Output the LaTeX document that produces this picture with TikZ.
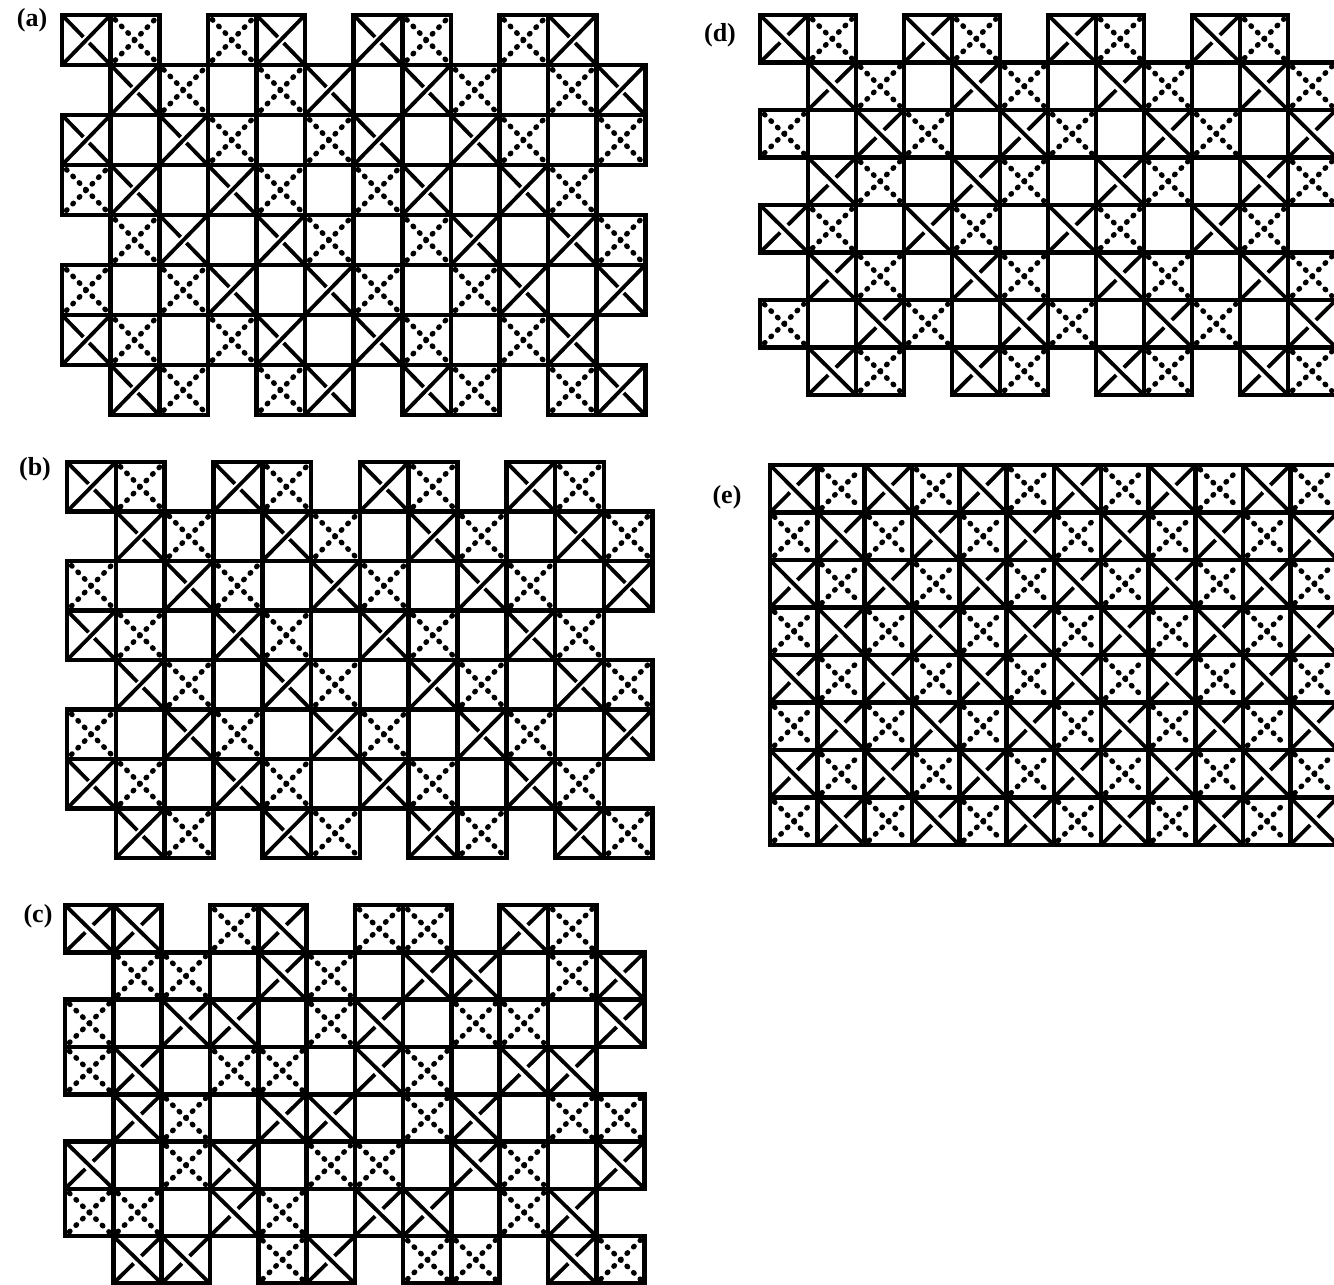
\documentclass[tikz,border=0pt]{standalone}
\usepackage{fontspec}
\setmainfont{Liberation Serif}
\usetikzlibrary{calc}

% one square of a pattern: column, row, kind (0 empty, 1 solid, 2 dotted), over (1 = / on top, 2 = \ on top)
\newcommand{\knotcell}[4]{%
  \ifnum#3=0\relax\else
    \ifnum#3=2\relax
      \draw[dotstrand] (#1+0.09,#2+0.09) -- (#1+0.91,#2+0.91);
      \draw[dotstrand] (#1+0.09,#2+0.91) -- (#1+0.91,#2+0.09);
    \else
      \ifnum#4=1\relax
        \draw[strand] (#1,#2+1) -- (#1+1,#2);
        \draw[strand] (#1,#2) -- (#1+0.44,#2+0.44);
        \draw[strand] (#1+0.56,#2+0.56) -- (#1+1,#2+1);
      \else
        \draw[strand] (#1,#2) -- (#1+1,#2+1);
        \draw[strand] (#1,#2+1) -- (#1+0.42,#2+0.58);
        \draw[strand] (#1+0.58,#2+0.42) -- (#1+1,#2);
      \fi
    \fi
    \draw[cellbox] (#1,#2) rectangle ++(1,1);
  \fi}

\begin{document}
\begin{tikzpicture}[
      x=0.5pt, y=-0.5pt,
      cellbox/.style={draw=black, line width=2.3pt, line join=miter},
      strand/.style={draw=black, line width=1.9pt},
      dotstrand/.style={draw=black, line width=2.6pt, line cap=round,
        dash pattern=on 0.5pt off 4.1pt},
      tag/.style={font=\bfseries\fontsize{13}{15}\selectfont, inner sep=0pt}
    ]
      \useasboundingbox (0,0) rectangle (1334,1285);
      \clip (0,0) rectangle (1334,1285);

      % (a)
      \node[tag] (tag-a) at (32,20) {(a)};
      \begin{scope}[shift={(62,15)}, x=24.3pt, y=-25pt]
        \foreach \rowdata [count=\r from 0] in {
            {1,2,0,2,1,0,1,2,0,2,1,0},
            {0,1,2,0,2,1,0,1,2,0,2,1},
            {1,0,1,2,0,2,1,0,1,2,0,2},
            {2,1,0,1,2,0,2,1,0,1,2,0},
            {0,2,1,0,1,2,0,2,1,0,1,2},
            {2,0,2,1,0,1,2,0,2,1,0,1},
            {1,2,0,2,1,0,1,2,0,2,1,0},
            {0,1,2,0,2,1,0,1,2,0,2,1}}
          \foreach \kind [count=\c from 0] in \rowdata
            {\knotcell{\c}{\r}{\kind}{1}}
      \end{scope}

      % (b)
      \node[tag] (tag-b) at (35,469) {(b)};
      \begin{scope}[shift={(67,462)}, x=24.4pt, y=-24.75pt]
        \foreach \rowdata [count=\r from 0] in {
            {1,2,0,1,2,0,1,2,0,1,2,0},
            {0,1,2,0,1,2,0,1,2,0,1,2},
            {2,0,1,2,0,1,2,0,1,2,0,1},
            {1,2,0,1,2,0,1,2,0,1,2,0},
            {0,1,2,0,1,2,0,1,2,0,1,2},
            {2,0,1,2,0,1,2,0,1,2,0,1},
            {1,2,0,1,2,0,1,2,0,1,2,0},
            {0,1,2,0,1,2,0,1,2,0,1,2}}
          \foreach \kind [count=\c from 0] in \rowdata
            {\knotcell{\c}{\r}{\kind}{1}}
      \end{scope}

      % (c)
      \node[tag] (tag-c) at (38,916) {(c)};
      \begin{scope}[shift={(65,905)}, x=24.15pt, y=-23.65pt]
        \foreach \rowdata [count=\r from 0] in {
            {1,1,0,2,1,0,2,2,0,1,2,0},
            {0,2,2,0,1,2,0,1,1,0,2,1},
            {2,0,1,1,0,2,1,0,2,2,0,1},
            {2,1,0,2,2,0,1,2,0,1,1,0},
            {0,1,2,0,1,1,0,2,1,0,2,2},
            {1,0,2,1,0,2,2,0,1,2,0,1},
            {2,2,0,1,2,0,1,1,0,2,1,0},
            {0,1,1,0,2,1,0,2,2,0,1,2}}
          \foreach \kind [count=\c from 0] in \rowdata
            {\knotcell{\c}{\r}{\kind}{2}}
      \end{scope}

      % (d)
      \node[tag] (tag-d) at (720,35) {(d)};
      \begin{scope}[shift={(760,15)}, x=24pt, y=-23.75pt]
        \foreach \rowdata [count=\r from 0] in {
            {1,2,0,1,2,0,1,2,0,1,2,0},
            {0,1,2,0,1,2,0,1,2,0,1,2},
            {2,0,1,2,0,1,2,0,1,2,0,1},
            {0,1,2,0,1,2,0,1,2,0,1,2},
            {1,2,0,1,2,0,1,2,0,1,2,0},
            {0,1,2,0,1,2,0,1,2,0,1,2},
            {2,0,1,2,0,1,2,0,1,2,0,1},
            {0,1,2,0,1,2,0,1,2,0,1,2}}
          \foreach \kind [count=\c from 0] in \rowdata
            {\knotcell{\c}{\r}{\kind}{2}}
      \end{scope}

      % (e)
      \node[tag] (tag-e) at (727,497) {(e)};
      \begin{scope}[shift={(770,465)}, x=23.65pt, y=-23.75pt]
        \foreach \r in {0,...,7}
          \foreach \c in {0,...,11} {
            \pgfmathtruncatemacro{\kind}{mod(\r+\c,2)+1}
            \knotcell{\c}{\r}{\kind}{2}
          }
      \end{scope}
    \end{tikzpicture}
\end{document}
